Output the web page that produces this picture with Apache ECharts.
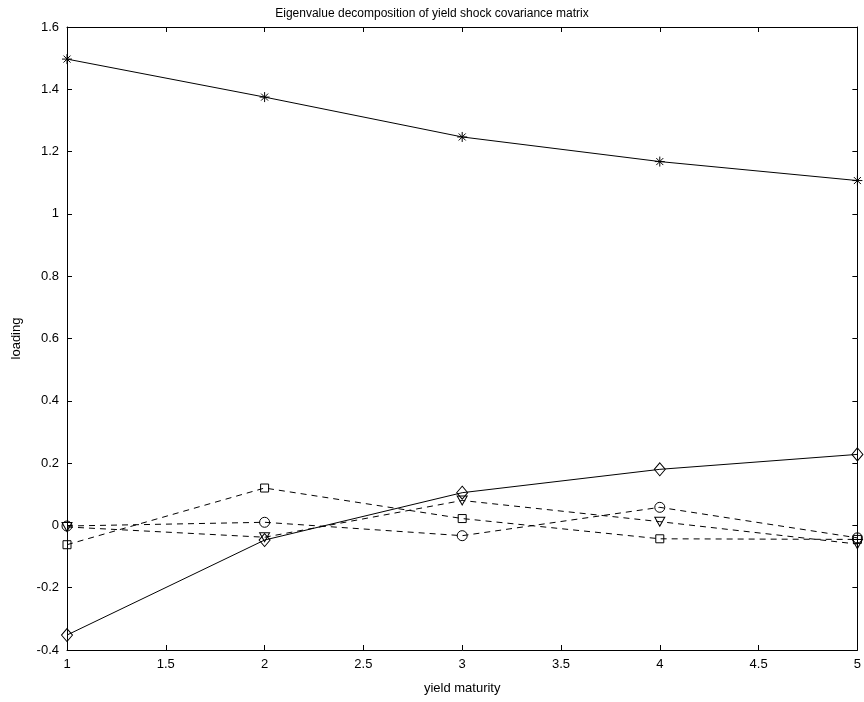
<!DOCTYPE html>
<html>
<head>
<meta charset="utf-8">
<script src="https://cdn.jsdelivr.net/npm/echarts@6/dist/echarts.min.js"></script>
<style>html,body{margin:0;padding:0;background:#fff}#c{width:864px;height:702px}</style>
</head>
<body>
<div id="c"></div>
<script>
const maturities = [1, 2, 3, 4, 5];
const starValues = [1.497, 1.375, 1.247, 1.168, 1.107];
const diamondValues = [-0.352, -0.047, 0.105, 0.180, 0.228];
const squareValues = [-0.062, 0.120, 0.022, -0.043, -0.045];
const circleValues = [-0.002, 0.010, -0.033, 0.058, -0.040];
const triangleValues = [-0.005, -0.038, 0.080, 0.012, -0.060];
const xTicks = {min: 1, max: 5, interval: 0.5};
const yTicks = {min: -0.4, max: 1.6, interval: 0.2};

const FONT = 'Liberation Sans, Arial, sans-serif';
const pairs = vals => maturities.map((x, i) => [x, vals[i]]);
const fmt = v => String(Math.round(v * 10) / 10);

const starPath = 'path://M0,-5L0,5M-5,0L5,0M-3.5,-3.5L3.5,3.5M-3.5,3.5L3.5,-3.5';
const triPath = 'path://M-5,-4.3L5,-4.3L0,4.3Z';

function mk(vals, symbol, size, dashed) {
  return {
    type: 'line',
    data: pairs(vals),
    symbol: symbol,
    symbolSize: size,
    showAllSymbol: true,
    lineStyle: {color: '#000', width: 1, type: dashed ? [6, 5] : 'solid'},
    itemStyle: {color: 'transparent', borderColor: '#000', borderWidth: 1},
    emphasis: {disabled: true},
    animation: false
  };
}

const axisCommon = {
  axisLine: {show: true, onZero: false, lineStyle: {color: '#000', width: 1}},
  axisTick: {show: true, inside: true, length: 5, lineStyle: {color: '#000'}},
  splitLine: {show: false}
};

const chart = echarts.init(document.getElementById('c'));
chart.setOption({
  backgroundColor: '#fff',
  animation: false,
  title: {
    text: 'Eigenvalue decomposition of yield shock covariance matrix',
    left: 'center', top: 3,
    textStyle: {fontFamily: FONT, fontSize: 12, fontWeight: 'normal', color: '#000'}
  },
  grid: {left: 67, right: 6, top: 27, bottom: 52},
  xAxis: [
    Object.assign({
      type: 'value', position: 'bottom', min: xTicks.min, max: xTicks.max, interval: xTicks.interval,
      name: 'yield maturity', nameLocation: 'middle', nameGap: 32,
      nameTextStyle: {fontFamily: FONT, fontSize: 13, color: '#000'},
      axisLabel: {fontFamily: FONT, fontSize: 13, color: '#000', margin: 8, formatter: fmt}
    }, axisCommon),
    Object.assign({
      type: 'value', position: 'top', min: xTicks.min, max: xTicks.max, interval: xTicks.interval,
      axisLabel: {show: false}
    }, axisCommon)
  ],
  yAxis: [
    Object.assign({
      type: 'value', position: 'left', min: yTicks.min, max: yTicks.max, interval: yTicks.interval,
      name: 'loading', nameLocation: 'middle', nameGap: 44, nameRotate: 90,
      nameTextStyle: {fontFamily: FONT, fontSize: 13, color: '#000'},
      axisLabel: {fontFamily: FONT, fontSize: 13, color: '#000', margin: 8, formatter: fmt}
    }, axisCommon),
    Object.assign({
      type: 'value', position: 'right', min: yTicks.min, max: yTicks.max, interval: yTicks.interval,
      axisLabel: {show: false}
    }, axisCommon)
  ],
  series: [
    mk(starValues, starPath, 10, false),
    mk(diamondValues, 'diamond', [11, 13], false),
    mk(squareValues, 'rect', 8, true),
    mk(circleValues, 'circle', 10, true),
    mk(triangleValues, triPath, [10, 9], true)
  ]
});
</script>
</body>
</html>
